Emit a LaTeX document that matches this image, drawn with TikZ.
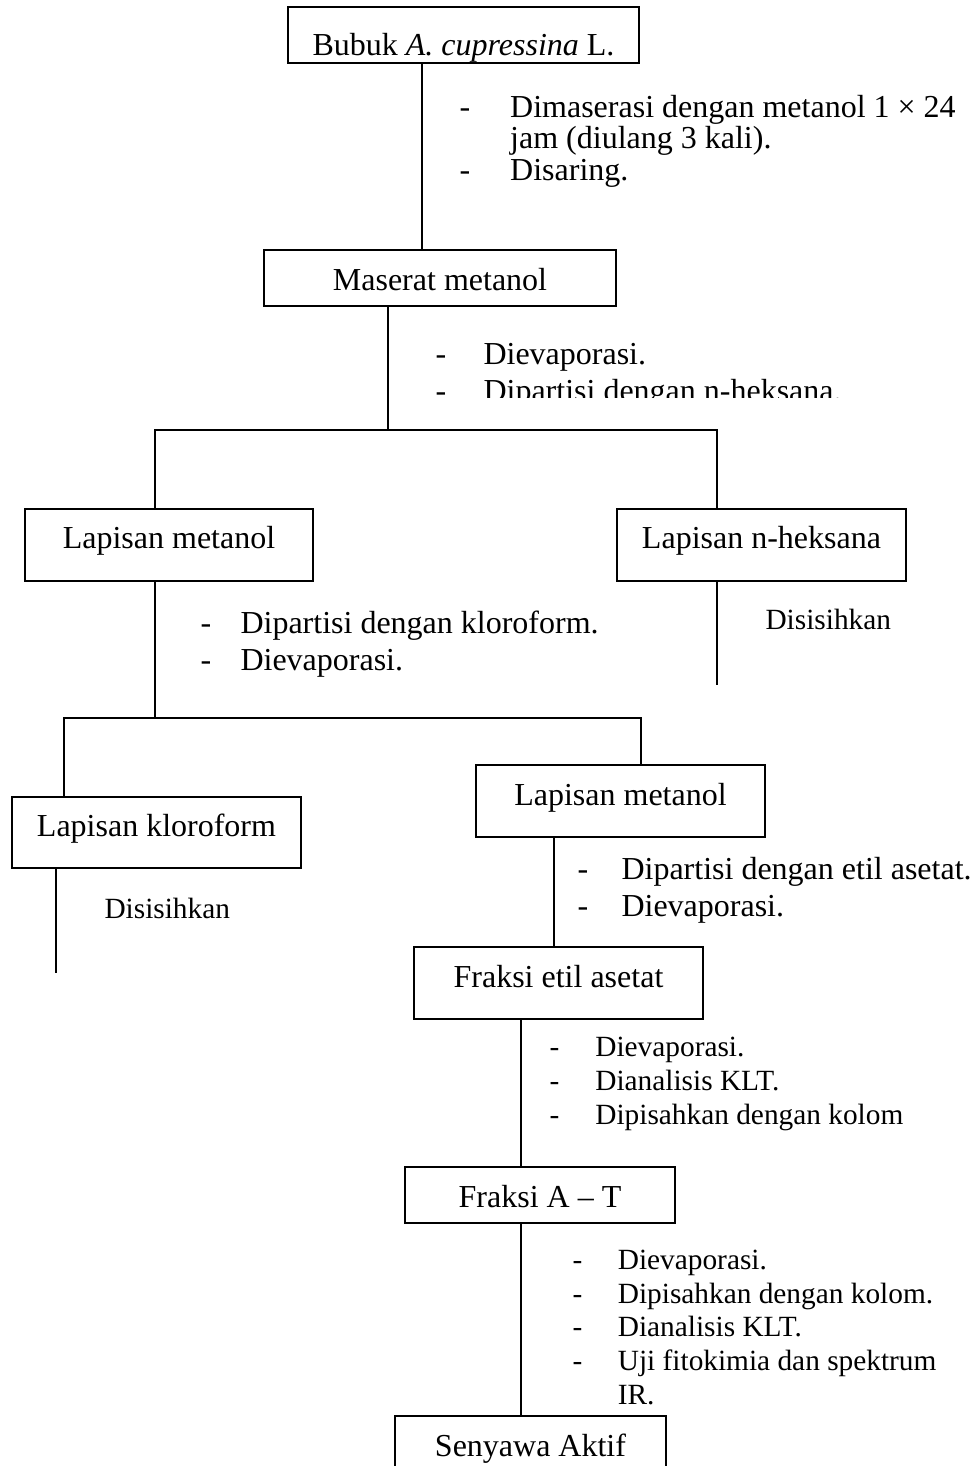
\documentclass[tikz,border=0pt]{standalone}
\usepackage{fontspec}
\setmainfont{Liberation Serif}
\usepackage{tikz}
\usetikzlibrary{calc}

\newcommand{\butir}[2][17pt]{\makebox[#1][l]{-}#2}

\tikzset{
    kotak/.style={draw, line width=0.75pt, inner sep=0pt, minimum height=21pt,
        text height=11.5pt, text depth=2.5pt, font=\fontsize{12}{14}\selectfont},
    lapisan/.style={kotak, minimum height=27pt, minimum width=108.3pt, text height=5.5pt},
    daftar/.style={anchor=base west, align=left, inner sep=0pt,
        font=\fontsize{12}{13.8}\selectfont},
    daftarkecil/.style={daftar, font=\fontsize{11}{12.6}\selectfont},
    garis/.style={line width=0.6pt}
}

\begin{document}
\begin{tikzpicture}[x=0.375pt, y=-0.375pt]
    \clip (0,0) rectangle (977,1466);
    \node[kotak, minimum width=131.6pt, text height=17.5pt] (bubuk) at (463.5,35) {Bubuk \textit{A. cupressina} L.};
    \node[kotak, minimum width=132pt] (maserat) at (440,278) {Maserat metanol};
    \node[lapisan] (lapmet1) at (169,544.5) {Lapisan metanol};
    \node[lapisan] (lapheks) at (761.5,544.5) {Lapisan n-heksana};
    \node[lapisan, minimum height=26.6pt] (lapklor) at (156.5,832.5) {Lapisan kloroform};
    \node[lapisan] (lapmet2) at (620.5,801) {Lapisan metanol};
    \node[lapisan] (fraketil) at (558.5,983) {Fraksi etil asetat};
    \node[kotak, minimum width=101.3pt] (frakAT) at (540,1195) {Fraksi A -- T};
    \node[kotak, minimum width=101.6pt] (senyawa) at (530.5,1444) {Senyawa Aktif};

    \coordinate (cabang1) at (388,430);
    \coordinate (cabang2) at (155,718);
    \coordinate (akhir1) at (717,685);
    \coordinate (akhir2) at (56,973);

    \node[daftar, font=\fontsize{12}{11.8}\selectfont] (proses1) at (459,180) {\butir[19pt]{Dimaserasi dengan metanol 1 × 24}\\
        \hspace*{19pt}jam (diulang 3 kali).\\ \butir[19pt]{Disaring.}};
    \begin{scope}
        \clip (0,0) rectangle (977,397);
        \node[daftar] (proses2) at (435,401) {\butir[18pt]{Dievaporasi.}\\ \butir[18pt]{Dipartisi dengan n-heksana.}};
    \end{scope}
    \node[daftar] (proses3) at (200,670) {\butir[15pt]{Dipartisi dengan kloroform.}\\ \butir[15pt]{Dievaporasi.}};
    \node[daftar] (proses4) at (577,916) {\butir[16.5pt]{Dipartisi dengan etil asetat.}\\ \butir[16.5pt]{Dievaporasi.}};
    \node[daftarkecil] (proses5) at (549,1124) {\butir[17.2pt]{Dievaporasi.}\\ \butir[17.2pt]{Dianalisis KLT.}\\
        \butir[17.2pt]{Dipisahkan dengan kolom}};
    \node[daftarkecil] (proses6) at (572,1404) {\butir{Dievaporasi.}\\ \butir{Dipisahkan dengan kolom.}\\
        \butir{Dianalisis KLT.}\\ \butir{Uji fitokimia dan spektrum}\\ \hspace*{17pt}IR.};
    \node[daftarkecil] (sisa1) at (765,629) {Disisihkan};
    \node[daftarkecil] (sisa2) at (104,918) {Disisihkan};

    \draw[garis] (bubuk.south -| 422,0) -- (maserat.north -| 422,0);
    \draw[garis] (maserat.south -| cabang1) -- (cabang1);
    \draw[garis] (lapmet1.north -| 155,0) |- (cabang1) -| (lapheks.north -| 717,0);
    \draw[garis] (lapheks.south -| akhir1) -- (akhir1);
    \draw[garis] (lapmet1.south -| cabang2) -- (cabang2);
    \draw[garis] (lapklor.north -| 64,0) |- (cabang2) -| (lapmet2.north -| 641,0);
    \draw[garis] (lapklor.south -| akhir2) -- (akhir2);
    \draw[garis] (lapmet2.south -| 554,0) -- (fraketil.north -| 554,0);
    \draw[garis] (fraketil.south -| 521,0) -- (frakAT.north -| 521,0);
    \draw[garis] (frakAT.south -| 521,0) -- (senyawa.north -| 521,0);
\end{tikzpicture}
\end{document}
